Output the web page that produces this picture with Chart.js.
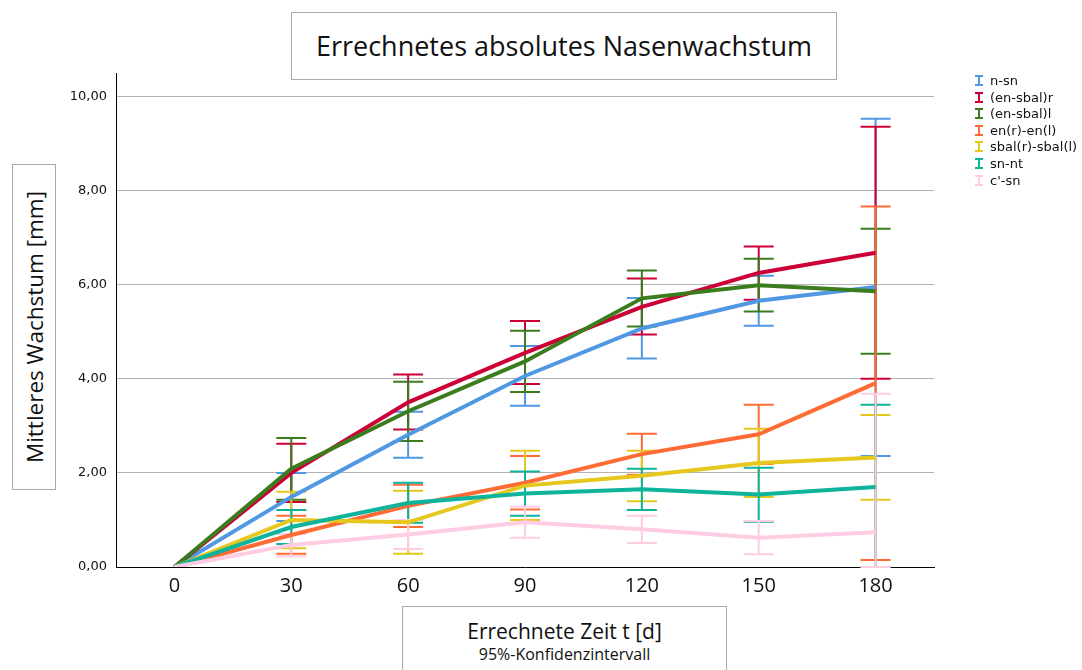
<!DOCTYPE html>
<html>
<head>
<meta charset="utf-8">
<script src="https://cdn.jsdelivr.net/npm/chart.js@4.4.0/dist/chart.umd.min.js"></script>
<style>
  body { margin: 0; background: #fff; }
  #wrap { position: relative; width: 1082px; height: 670px; overflow: hidden; }
  #chart { position: absolute; left: 0; top: 0; }
  .box { position: absolute; border: 1.5px solid #aaa; background: #fff; box-sizing: border-box; font-family: "Open Sans", sans-serif; color: #111; }
  #title { left: 291px; top: 12px; width: 546px; height: 68px; font-size: 27px; line-height: 66px; text-align: center; }
  #ytitle { left: 12px; top: 164px; width: 44px; height: 326px; }
  #ytitle span { position: absolute; left: 50%; top: 50%; transform: translate(-50%, -50%) rotate(-90deg); white-space: nowrap; font-size: 22.5px; }
  #xtitle { left: 402px; top: 606px; width: 325px; height: 80px; text-align: center; }
  #xtitle .main { font-size: 21px; margin-top: 11px; line-height: 26px; }
  #xtitle .sub { font-size: 16px; line-height: 20px; }
  #legend { position: absolute; left: 975px; top: 73px; font-family: "DejaVu Sans", sans-serif; font-size: 13px; color: #111; }
  #legend div { height: 16.6px; line-height: 16px; white-space: nowrap; }
  #legend svg { vertical-align: -1px; margin-right: 7px; }
</style>
</head>
<body>
<div id="wrap">
  <canvas id="chart" width="1082" height="670"></canvas>
  <div id="title" class="box">Errechnetes absolutes Nasenwachstum</div>
  <div id="ytitle" class="box"><span>Mittleres Wachstum [mm]</span></div>
  <div id="xtitle" class="box"><div class="main">Errechnete Zeit t [d]</div><div class="sub">95%-Konfidenzintervall</div></div>
  <div id="legend"></div>
</div>
<script>
const days = [0, 30, 60, 90, 120, 150, 180];
const yTicks = [0, 2, 4, 6, 8, 10];
const names = ['n-sn', '(en-sbal)r', '(en-sbal)l', 'en(r)-en(l)', 'sbal(r)-sbal(l)', 'sn-nt', "c'-sn"];
const colors = ['#5097e4', '#cc0036', '#3b7d1e', '#ff6b35', '#e5c71d', '#0db39b', '#ffcde3'];

const nsnMean = [0, 1.49, 2.81, 4.06, 5.07, 5.66, 5.95];
const nsnLow = [0, 0.98, 2.32, 3.43, 4.43, 5.13, 2.36];
const nsnHigh = [0, 2.00, 3.30, 4.70, 5.72, 6.19, 9.53];

const ensbalRMean = [0, 2.00, 3.50, 4.55, 5.53, 6.25, 6.68];
const ensbalRLow = [0, 1.38, 2.92, 3.89, 4.94, 5.68, 4.00];
const ensbalRHigh = [0, 2.62, 4.09, 5.23, 6.13, 6.81, 9.36];

const ensbalLMean = [0, 2.09, 3.31, 4.37, 5.71, 5.99, 5.86];
const ensbalLLow = [0, 1.43, 2.68, 3.72, 5.11, 5.43, 4.53];
const ensbalLHigh = [0, 2.74, 3.94, 5.02, 6.30, 6.55, 7.19];

const enMean = [0, 0.68, 1.30, 1.79, 2.40, 2.82, 3.91];
const enLow = [0, 0.28, 0.85, 1.22, 1.96, 2.19, 0.15];
const enHigh = [0, 1.09, 1.75, 2.36, 2.83, 3.45, 7.66];

const sbalMean = [0, 1.00, 0.95, 1.73, 1.94, 2.21, 2.33];
const sbalLow = [0, 0.40, 0.28, 1.00, 1.40, 1.49, 1.43];
const sbalHigh = [0, 1.60, 1.62, 2.47, 2.47, 2.94, 3.23];

const snntMean = [0, 0.85, 1.36, 1.56, 1.65, 1.54, 1.70];
const snntLow = [0, 0.49, 0.94, 1.09, 1.21, 0.96, 0];
const snntHigh = [0, 1.21, 1.79, 2.03, 2.09, 2.11, 3.45];

const csnMean = [0, 0.47, 0.69, 0.95, 0.80, 0.62, 0.74];
const csnLow = [0, 0.23, 0.38, 0.62, 0.51, 0.27, 0];
const csnHigh = [0, 0.70, 1.00, 1.28, 1.09, 0.98, 3.68];

const means = [nsnMean, ensbalRMean, ensbalLMean, enMean, sbalMean, snntMean, csnMean];
const lows = [nsnLow, ensbalRLow, ensbalLLow, enLow, sbalLow, snntLow, csnLow];
const highs = [nsnHigh, ensbalRHigh, ensbalLHigh, enHigh, sbalHigh, snntHigh, csnHigh];

// error bars, drawn under the lines
const errorBars = {
  id: 'errorBars',
  beforeDatasetsDraw(chart) {
    const { ctx, chartArea, scales: { x, y } } = chart;
    ctx.save();
    ctx.beginPath();
    ctx.rect(chartArea.left, chartArea.top - 2, chartArea.width, chartArea.height + 3);
    ctx.clip();
    ctx.lineWidth = 2;
    chart.data.datasets.forEach(ds => {
      ctx.strokeStyle = ds.borderColor;
      ds.errLow.forEach((lo, i) => {
        const hi = ds.errHigh[i];
        if (hi === lo) return;
        const px = x.getPixelForValue(days[i]);
        const top = y.getPixelForValue(hi);
        const bot = y.getPixelForValue(lo);
        ctx.beginPath();
        ctx.moveTo(px, top); ctx.lineTo(px, bot);
        ctx.moveTo(px - 15, top); ctx.lineTo(px + 15, top);
        ctx.moveTo(px - 15, bot); ctx.lineTo(px + 15, bot);
        ctx.stroke();
      });
    });
    ctx.restore();
  }
};

const datasets = names.map((n, k) => ({
  label: n,
  data: days.map((d, i) => ({ x: d, y: means[k][i] })),
  errLow: lows[k],
  errHigh: highs[k],
  borderColor: colors[k],
  backgroundColor: colors[k],
  borderWidth: 4,
  pointRadius: 0,
  tension: 0,
  order: names.length - k
}));

new Chart(document.getElementById('chart'), {
  type: 'line',
  data: { datasets },
  options: {
    responsive: false,
    animation: false,
    layout: { padding: { left: 60, right: 148, top: 73, bottom: 69 } },
    plugins: { legend: { display: false }, tooltip: { enabled: false } },
    scales: {
      x: {
        type: 'linear',
        min: -15,
        max: 195,
        afterBuildTicks: s => { s.ticks = days.map(v => ({ value: v })); },
        afterFit: s => { s.height = 34; },
        grid: { display: false, drawTicks: false },
        border: { color: '#000', width: 1 },
        ticks: { padding: 7, color: '#111', font: { family: 'Open Sans', size: 20 }, maxRotation: 0 }
      },
      y: {
        min: 0,
        max: 10.5,
        afterBuildTicks: s => { s.ticks = yTicks.map(v => ({ value: v })); },
        afterFit: s => { s.width = 56; },
        grid: { drawTicks: false, lineWidth: 1, color: c => c.tick && c.tick.value === 0 ? 'rgba(0,0,0,0)' : '#b2b2b2' },
        border: { color: '#000', width: 1 },
        ticks: {
          padding: 9,
          color: '#111',
          font: { family: 'DejaVu Sans', size: 13 },
          callback: v => v.toFixed(2).replace('.', ',')
        }
      }
    }
  },
  plugins: [errorBars]
});

const legend = document.getElementById('legend');
names.forEach((n, k) => {
  const row = document.createElement('div');
  row.innerHTML = '<svg width="8" height="11"><path d="M0 1H8M4 1V10M0 10H8" stroke="' + colors[k] + '" stroke-width="2" fill="none"/></svg>' + n;
  legend.appendChild(row);
});
</script>
</body>
</html>
